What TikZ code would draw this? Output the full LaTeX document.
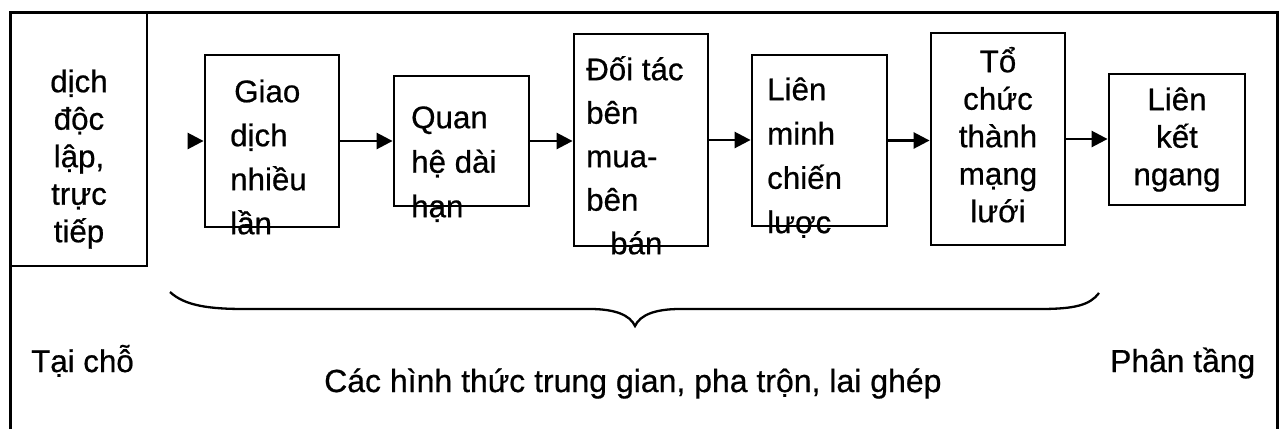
\documentclass[tikz,border=0pt]{standalone}
\usepackage{fontspec}
\setmainfont{Liberation Sans}[FakeBold=0.6]
\usetikzlibrary{arrows.meta}
% invisible strut that fixes the height of a node's first line
\newcommand{\capstrut}{\rule{0pt}{40pt}}
% lines inside multi-line nodes are always spaced by the baselineskip
\lineskiplimit=-100pt
\begin{document}
\begin{tikzpicture}[x=1pt,y=-1pt,
  frame/.style={line width=3pt},
  box/.style={draw, line width=2.8pt, inner sep=0pt},
  lbl/.style={inner sep=0pt, font=\fontsize{31.3}{#1}\selectfont},
  lbl/.default=37.5,
  arr/.style={line width=2.6pt, -{Triangle[length=16pt,width=16pt]}},
  brace/.style={line width=2.3pt}]
\useasboundingbox (0,0) rectangle (1283,429);

% outer frame (open at the bottom)
\draw[frame] (10,429) -- (10,12) -- (1277,12) -- (1277,429);

% boxes
\node[box, minimum width=137pt, minimum height=254pt] (L)  at (78.5,139) {};
\node[box, minimum width=134pt, minimum height=172pt] (b1) at (272,141) {};
\node[box, minimum width=135pt, minimum height=130pt] (b2) at (461.5,141) {};
\node[box, minimum width=134pt, minimum height=212pt] (b3) at (641,140) {};
\node[box, minimum width=135pt, minimum height=171pt] (b4) at (819.5,140.5) {};
\node[box, minimum width=134pt, minimum height=212pt] (b5) at (998,139) {};
\node[box, minimum width=136pt, minimum height=131pt] (b6) at (1177,139.5) {};

% box texts
\node[lbl, align=center, anchor=north] (tL) at (79,52)
  {\capstrut dịch\\độc\\lập,\\trực\\tiếp};
\node[lbl=44, align=left, anchor=north west] (t1) at (230,62)
  {\capstrut\hspace{4pt}Giao\\dịch\\nhiều\\lần};
\node[lbl=44.5, align=left, anchor=north west] (t2) at (411,88)
  {\capstrut Quan\\hệ dài\\hạn};
\node[lbl=43.5, align=left, anchor=north west] (t3) at (586,40)
  {\capstrut Đối tác\\bên\\mua-\\bên\\\hspace{24pt}bán};
\node[lbl=44.3, align=left, anchor=north west] (t4) at (767,60)
  {\capstrut Liên\\minh\\chiến\\lược};
\node[lbl, align=center, anchor=north] (t5) at (998,32)
  {\capstrut Tổ\\chức\\thành\\mạng\\lưới};
\node[lbl, align=center, anchor=north] (t6) at (1177,70)
  {\capstrut Liên\\kết\\ngang};

% connectors
\coordinate (in1) at (188,141);
\draw[arr] (in1) -- (b1.west);
\draw[arr] (b1.east) -- (b1.east -| b2.west);
\draw[arr] (b2.east) -- (b2.east -| b3.west);
\draw[arr] (b3.east) -- (b3.east -| b4.west);
\draw[arr] (b4.east) -- (b4.east -| b5.west);
\draw[arr] (b5.east) -- (b5.east -| b6.west);

% curly brace under the intermediate forms
\draw[brace] (170,292) .. controls (185,306) and (210,309) .. (245,309)
  -- (590,309) .. controls (615,309) and (630,315) .. (635,326)
  .. controls (640,315) and (655,309) .. (680,309)
  -- (1040,309) .. controls (1075,309) and (1090,305) .. (1099,293);

% bottom labels
\node[lbl, anchor=base west] (left)  at (31,372)   {Tại chỗ};
\node[lbl, anchor=base west, font=\fontsize{32}{38}\selectfont] (mid) at (324,392)
  {Các hình thức trung gian, pha trộn, lai ghép};
\node[lbl, anchor=base west, font=\fontsize{31.8}{38}\selectfont] (right) at (1110,372)
  {Phân tầng};
\end{tikzpicture}
\end{document}
